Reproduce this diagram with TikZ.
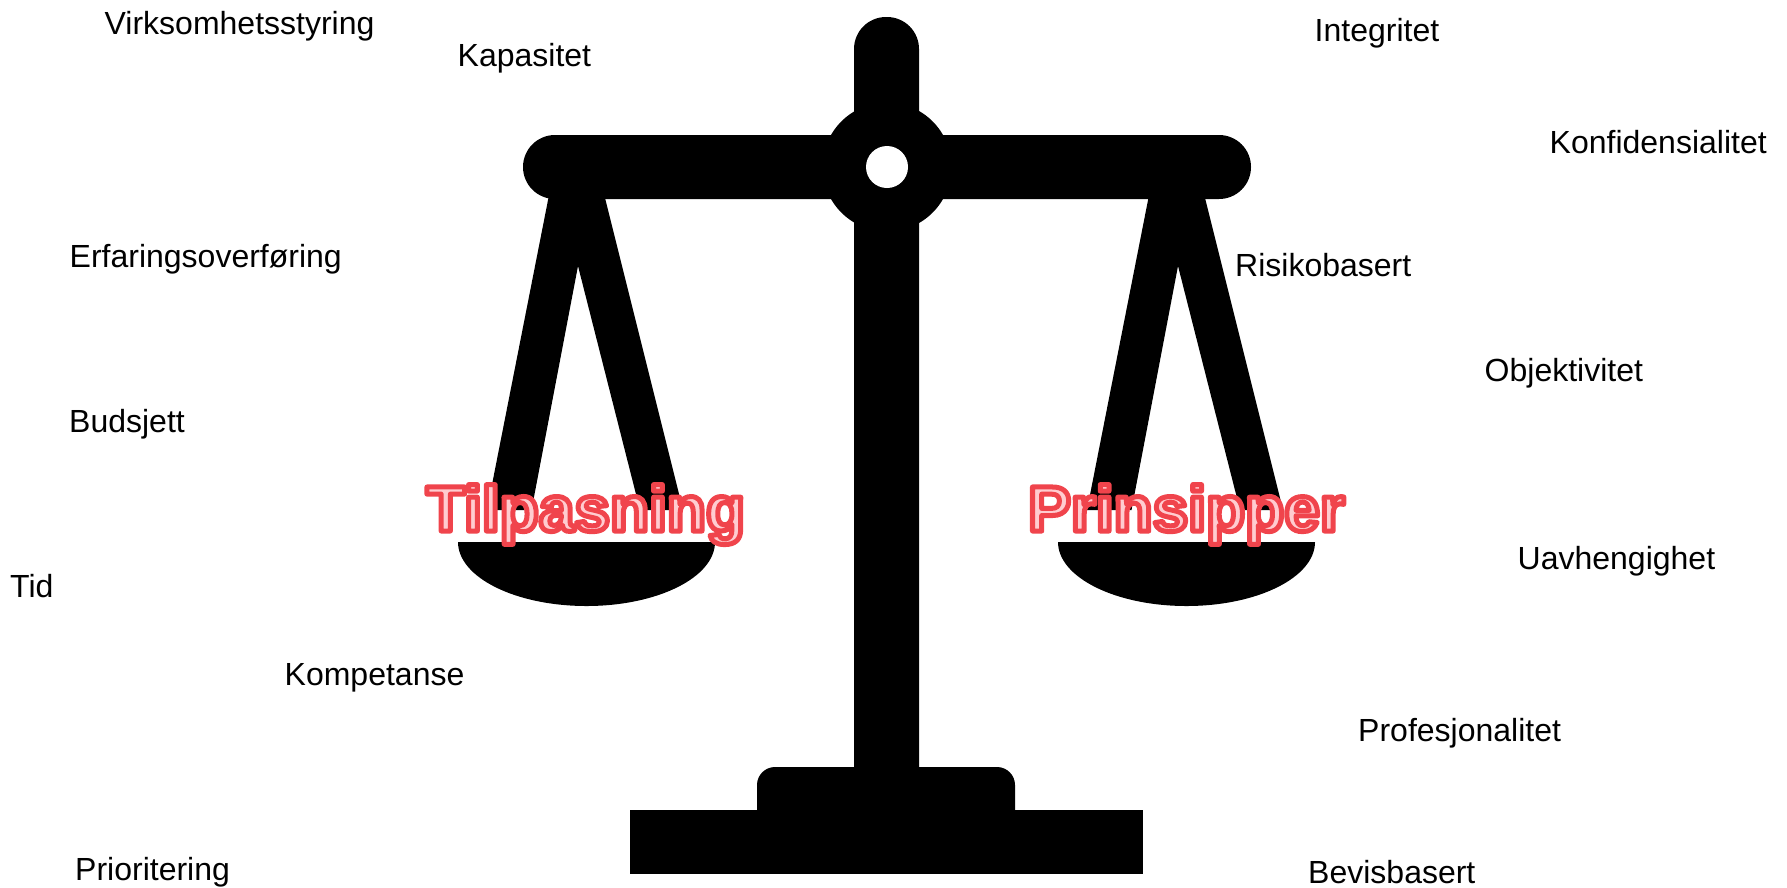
\documentclass[tikz,border=0pt]{standalone}
\usepackage{fontspec}
\setmainfont{Liberation Sans}
\usepackage{xcolor}
\definecolor{hlfill}{HTML}{FFCCD0}
% outlined text, stroke colour is set directly
\newcommand{\outlined}[1]{\special{pdf: code q 0.941 0.267 0.298 RG 5 w 1 j 1 J 2 Tr}#1\special{pdf: code Q}}
\tikzset{
    word/.style={anchor=base west, inner sep=0pt, font=\fontsize{32}{38}\selectfont},
    side/.style={anchor=base west, inner sep=0pt, text=hlfill, font=\fontsize{64}{72}\selectfont\bfseries},
}

\begin{document}
\begin{tikzpicture}[x=1pt, y=-1pt]
            \useasboundingbox (0,0) rectangle (1787,887);
            % stand
            \fill (630,810) rectangle (1143,874);
            \fill[rounded corners=18pt] (757,767) rectangle (1015,840);
            \fill[rounded corners=32pt] (854,17) rectangle (919,840);
            % beam
            \fill[rounded corners=32pt] (523,135) rectangle (1251,199);
            \fill (887,167) circle (64.5pt);
            \fill[white] (887,167) circle (21pt);
            % hangers and pans
            \foreach \dx in {0,600} {
                \begin{scope}[xshift=\dx pt]
                    \fill (550,190) -- (487,510) -- (531.5,510) -- (578,266) -- (640,510) -- (683,510) -- (603,190) -- cycle;
                    \fill (458,542) arc (180:360:128.5pt and 64pt) -- cycle;
                \end{scope}
            }
            \node [side] (tilpasning) at (426,531) {\outlined{Tilpasning}};
            \node [side] (prinsipper) at (1028,531) {\outlined{Prinsipper}};
            % left words
            \node [word] (styring) at (104.5,34) {Virksomhetsstyring};
            \node [word] (kapasitet) at (457.5,66) {Kapasitet};
            \node [word] (erfaring) at (69.5,267) {Erfaringsoverføring};
            \node [word] (budsjett) at (69,432) {Budsjett};
            \node [word] (tid) at (10,597) {Tid};
            \node [word] (kompetanse) at (284.5,685) {Kompetanse};
            \node [word] (prioritering) at (75,880) {Prioritering};
            % right words
            \node [word] (integritet) at (1314.5,41) {Integritet};
            \node [word] (konfidens) at (1549.5,153) {Konfidensialitet};
            \node [word] (risiko) at (1235,276) {Risikobasert};
            \node [word] (objektiv) at (1484.5,381) {Objektivitet};
            \node [word] (uavhengig) at (1517.5,569) {Uavhengighet};
            \node [word] (profesjon) at (1358,741) {Profesjonalitet};
            \node [word] (bevis) at (1308,883) {Bevisbasert};
        \end{tikzpicture}
\end{document}
